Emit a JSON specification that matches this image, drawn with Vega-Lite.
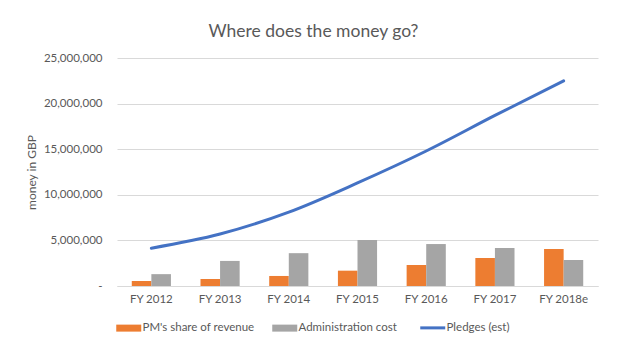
{
  "$schema": "https://vega.github.io/schema/vega-lite/v6.json",
  "width": 481,
  "height": 228,
  "autosize": {"type": "none"},
  "padding": {"left": 117, "top": 58, "right": 29, "bottom": 71},
  "background": "white",
  "title": {
    "text": "Where does the money go?",
    "anchor": "middle",
    "dx": -44,
    "offset": 12,
    "fontSize": 17.5,
    "font": "Lato",
    "fontWeight": "normal",
    "color": "#595959"
  },
  "config": {
    "font": "Lato",
    "view": {"stroke": null},
    "axis": {"labelFont": "Lato", "titleFont": "Lato", "labelColor": "#595959", "titleColor": "#595959", "labelFontSize": 11.5, "titleFontSize": 12, "titleFontWeight": "normal"},
    "legend": {"labelFont": "Lato", "labelColor": "#595959", "labelFontSize": 11.5}
  },
  "data": {
    "values": [
      {"year": "FY 2012", "series": "PM's share of revenue", "value": 550000},
      {"year": "FY 2013", "series": "PM's share of revenue", "value": 770000},
      {"year": "FY 2014", "series": "PM's share of revenue", "value": 1100000},
      {"year": "FY 2015", "series": "PM's share of revenue", "value": 1680000},
      {"year": "FY 2016", "series": "PM's share of revenue", "value": 2300000},
      {"year": "FY 2017", "series": "PM's share of revenue", "value": 3070000},
      {"year": "FY 2018e", "series": "PM's share of revenue", "value": 4060000},
      {"year": "FY 2012", "series": "Administration cost", "value": 1300000},
      {"year": "FY 2013", "series": "Administration cost", "value": 2750000},
      {"year": "FY 2014", "series": "Administration cost", "value": 3600000},
      {"year": "FY 2015", "series": "Administration cost", "value": 5050000},
      {"year": "FY 2016", "series": "Administration cost", "value": 4600000},
      {"year": "FY 2017", "series": "Administration cost", "value": 4170000},
      {"year": "FY 2018e", "series": "Administration cost", "value": 2850000},
      {"year": "FY 2012", "series": "Pledges (est)", "value": 4150000},
      {"year": "FY 2013", "series": "Pledges (est)", "value": 5700000},
      {"year": "FY 2014", "series": "Pledges (est)", "value": 8100000},
      {"year": "FY 2015", "series": "Pledges (est)", "value": 11300000},
      {"year": "FY 2016", "series": "Pledges (est)", "value": 14800000},
      {"year": "FY 2017", "series": "Pledges (est)", "value": 18700000},
      {"year": "FY 2018e", "series": "Pledges (est)", "value": 22500000}
    ]
  },
  "encoding": {
    "x": {
      "field": "year",
      "type": "nominal",
      "sort": null,
      "scale": {"paddingInner": 0.43, "paddingOuter": 0.215},
      "axis": {"title": null, "labelAngle": 0, "ticks": false, "domainColor": "#D9D9D9", "labelPadding": 7}
    },
    "y": {
      "field": "value",
      "type": "quantitative",
      "scale": {"domain": [0, 25000000]},
      "axis": {
        "title": "money in GBP",
        "values": [0, 5000000, 10000000, 15000000, 20000000, 25000000],
        "labelExpr": "datum.value === 0 ? '-  ' : format(datum.value, ',')",
        "domain": false,
        "ticks": false,
        "gridColor": "#D9D9D9",
        "labelPadding": 15,
        "titlePadding": 5
      }
    },
    "color": {
      "field": "series",
      "type": "nominal",
      "scale": {
        "domain": ["PM's share of revenue", "Administration cost", "Pledges (est)"],
        "range": ["#ED7D31", "#A5A5A5", "#4472C4"]
      },
      "legend": {
        "title": null,
        "orient": "none",
        "direction": "horizontal",
        "legendX": 6,
        "legendY": 264,
        "columnPadding": 17,
        "labelOffset": 8,
        "symbolSize": 625,
        "symbolType": "M-1,-0.28H1V0.28H-1Z",
        "labelLimit": 300,
        "encode": {
          "symbols": {
            "update": {
              "shape": {"signal": "datum.value === 'Pledges (est)' ? 'M-1,0H1' : 'M-1,-0.28H1V0.28H-1Z'"},
              "fill": {"signal": "datum.value === 'Pledges (est)' ? 'transparent' : scale('color', datum.value)"},
              "stroke": {"signal": "scale('color', datum.value)"},
              "strokeWidth": {"signal": "datum.value === 'Pledges (est)' ? 3 : 0"},
              "opacity": {"value": 1},
              "fillOpacity": {"value": 1}
            }
          }
        }
      }
    }
  },
  "layer": [
    {
      "transform": [{"filter": "datum.series !== 'Pledges (est)'"}],
      "mark": {"type": "bar", "opacity": 1},
      "encoding": {
        "xOffset": {"field": "series", "type": "nominal", "sort": ["PM's share of revenue", "Administration cost"], "scale": {"paddingInner": 0, "paddingOuter": 0}}
      }
    },
    {
      "transform": [{"filter": "datum.series === 'Pledges (est)'"}],
      "mark": {"type": "line", "strokeWidth": 3, "interpolate": "monotone", "strokeCap": "round"}
    }
  ]
}
